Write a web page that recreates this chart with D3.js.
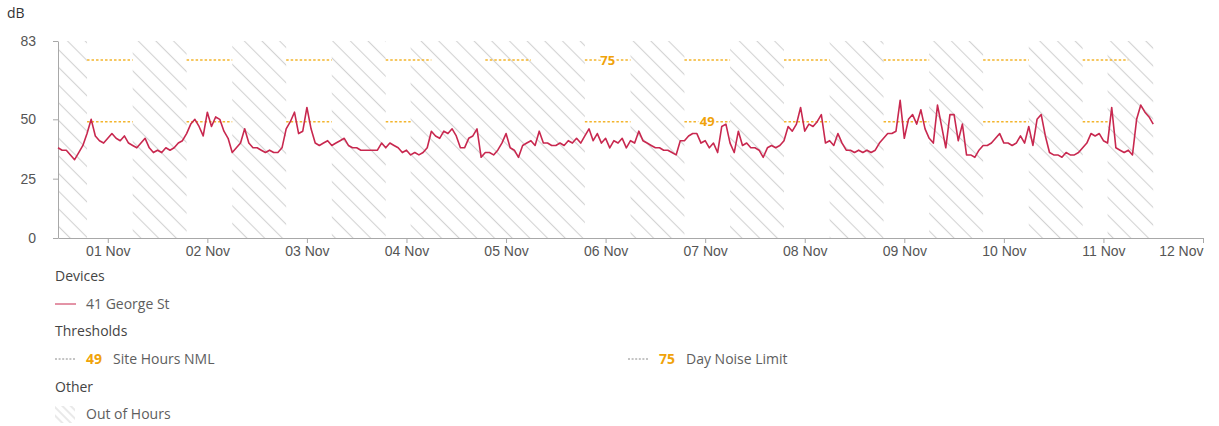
<!DOCTYPE html>
<html>
<head>
<meta charset="utf-8">
<script src="https://cdn.jsdelivr.net/npm/d3@7"></script>
<style>
    body { margin: 0; background: #fff; }
    svg { font-family: "Open Sans", sans-serif; }
</style>
</head>
<body>
<div id="chart"></div>
<script>
// Days covered by the readings (local site time)
var days = ["2023-11-01", "2023-11-02", "2023-11-03", "2023-11-04", "2023-11-05", "2023-11-06",
    "2023-11-07", "2023-11-08", "2023-11-09", "2023-11-10", "2023-11-11"];
var tickDays = days.concat(["2023-11-12"]);

// Site working hours per day [start, end]; null = no site hours (Sunday)
var siteHours = [[7, 18], [7, 18], [7, 18], [7, 13], null, [7, 18],
    [7, 18], [7, 18], [7, 18], [7, 18], [7, 13]];
// Day noise limit applies 7:00 - 18:00 every day
var dayLimitHours = [7, 18];

var yTicks = [0, 25, 50, 83];

var deviceName = "41 George St";
var thresholdValues = [49, 75];
var thresholdNames = ["Site Hours NML", "Day Noise Limit"];

// Hourly noise level (dB) from 01 Nov 00:00, one row per day, last value = 12 Nov 00:00
var levels = [
    38, 37, 37, 35, 33, 36, 39, 44, 50, 43, 41, 40, 42, 44, 42, 41, 43, 40, 39, 38, 40, 42, 38, 36,
    37, 36, 38, 37, 38, 40, 41, 44, 48, 50, 47, 43, 53, 47, 51, 50, 45, 42, 36, 38, 40, 46, 40, 38,
    38, 37, 36, 37, 36, 36, 38, 46, 49, 53, 44, 45, 55, 46, 40, 39, 40, 41, 39, 40, 41, 42, 39, 38,
    38, 37, 37, 37, 37, 37, 40, 38, 40, 39, 38, 36, 37, 35, 36, 35, 36, 38, 45, 43, 42, 45, 44, 46,
    43, 38, 38, 42, 43, 46, 34, 36, 36, 35, 37, 40, 44, 38, 37, 34, 39, 40, 41, 39, 45, 40, 40, 39,
    39, 40, 39, 41, 40, 42, 40, 43, 46, 41, 44, 40, 42, 38, 41, 40, 42, 38, 41, 40, 45, 41, 40, 39,
    38, 38, 37, 37, 36, 35, 41, 41, 43, 44, 44, 40, 41, 38, 40, 36, 47, 48, 40, 36, 45, 39, 40, 38,
    38, 37, 34, 38, 39, 38, 39, 41, 47, 45, 48, 55, 45, 48, 47, 49, 52, 40, 41, 39, 44, 40, 37, 37,
    36, 37, 36, 37, 36, 37, 40, 42, 44, 44, 45, 58, 42, 50, 52, 48, 54, 46, 42, 40, 56, 47, 38, 52,
    52, 41, 48, 35, 35, 34, 37, 39, 39, 40, 42, 44, 40, 40, 39, 40, 43, 40, 47, 39, 50, 52, 43, 36,
    35, 35, 34, 36, 35, 35, 36, 38, 40, 44, 43, 44, 41, 40, 55, 38, 37, 36, 37, 35, 50, 56, 53, 51,
    48
];

var parseDay = d3.utcParse("%Y-%m-%d");
var dayDates = days.map(parseDay);
var start = dayDates[0];

var width = 1219, height = 426;
var plot = { left: 58, right: 1203, top: 41, bottom: 238 };

var lineColor = "#c8284f";
var thresholdColor = "#f3b52d";
var thresholdText = "#f0a30a";

var svg = d3.select("#chart")
    .append("svg")
    .attr("width", width)
    .attr("height", height);

var defs = svg.append("defs");

// Diagonal hatch pattern for out-of-hours
function addHatch(id, size, color) {
    var p = defs.append("pattern")
        .attr("id", id)
        .attr("patternUnits", "userSpaceOnUse")
        .attr("width", size)
        .attr("height", size)
        .attr("patternTransform", "rotate(45)");
    p.append("line")
        .attr("x1", 0).attr("y1", size / 2)
        .attr("x2", size).attr("y2", size / 2)
        .attr("stroke", color)
        .attr("stroke-width", 1.1);
}
addHatch("hatch", 12.5, "#d2d2d2");
addHatch("hatchLegend", 6, "#d6d6d6");

// Scales
var xScale = d3.scaleUtc()
    .domain([start, d3.utcHour.offset(parseDay(tickDays[tickDays.length - 1]), 12)])
    .range([plot.left, plot.right]);

var yScale = d3.scaleLinear()
    .domain([0, 83])
    .range([plot.bottom, plot.top]);

function at(dayIndex, hour) {
    return d3.utcHour.offset(dayDates[dayIndex], hour);
}

// Out-of-hours spans (complement of site hours), merged when adjacent
var outSpans = [];
dayDates.forEach(function(d, i) {
    var parts = siteHours[i] ? [[0, siteHours[i][0]], [siteHours[i][1], 24]] : [[0, 24]];
    parts.forEach(function(p) {
        var s = at(i, p[0]), e = at(i, p[1]);
        var last = outSpans[outSpans.length - 1];
        if (last && +last[1] === +s) {
            last[1] = e;
        } else {
            outSpans.push([s, e]);
        }
    });
});

svg.append("g")
    .selectAll("rect")
    .data(outSpans)
    .enter()
    .append("rect")
    .attr("x", function(d) { return xScale(d[0]); })
    .attr("width", function(d) { return xScale(d[1]) - xScale(d[0]); })
    .attr("y", plot.top)
    .attr("height", plot.bottom - plot.top)
    .attr("fill", "url(#hatch)");

// Threshold segments
var thresholdSegments = thresholdValues.map(function(v, t) {
    var segs = [];
    dayDates.forEach(function(d, i) {
        var hrs = t === 0 ? siteHours[i] : dayLimitHours;
        if (hrs) segs.push({ value: v, s: at(i, hrs[0]), e: at(i, hrs[1]) });
    });
    return segs;
});

var thrG = svg.append("g");
thresholdSegments.forEach(function(segs) {
    thrG.selectAll(null)
        .data(segs)
        .enter()
        .append("line")
        .attr("x1", function(d) { return xScale(d.s); })
        .attr("x2", function(d) { return xScale(d.e); })
        .attr("y1", function(d) { return yScale(d.value); })
        .attr("y2", function(d) { return yScale(d.value); })
        .attr("stroke", thresholdColor)
        .attr("stroke-width", 1.5)
        .attr("stroke-dasharray", "2.5,2");
});

// Axes
var xAxis = d3.axisBottom(xScale)
    .tickValues(tickDays.map(function(d) { return d3.utcHour.offset(parseDay(d), 12); }))
    .tickFormat(d3.utcFormat("%d %b"))
    .tickSize(5)
    .tickSizeOuter(0)
    .tickPadding(3);

var gx = svg.append("g")
    .attr("transform", "translate(0," + plot.bottom + ")")
    .call(xAxis);
gx.selectAll("text")
    .attr("font-size", "14px")
    .attr("fill", "#555");
gx.selectAll("text")
    .filter(function(d, i, n) { return i === n.length - 1; })
    .attr("text-anchor", "end");

var yAxis = d3.axisLeft(yScale)
    .tickValues(yTicks)
    .tickSize(5)
    .tickSizeOuter(0)
    .tickPadding(17);

var gy = svg.append("g")
    .attr("transform", "translate(" + plot.left + ",0)")
    .call(yAxis);
gy.selectAll("text")
    .attr("font-size", "14px")
    .attr("fill", "#555");

svg.selectAll(".domain, .tick line")
    .attr("stroke", "#a8a8a8");

svg.append("text")
    .attr("x", 7)
    .attr("y", 18)
    .attr("font-size", "14px")
    .attr("fill", "#333")
    .text("dB");

// Device line
var line = d3.line()
    .x(function(d, i) { return xScale(d3.utcHour.offset(start, i)); })
    .y(function(d) { return yScale(d); });

svg.append("path")
    .datum(levels)
    .attr("fill", "none")
    .attr("stroke", lineColor)
    .attr("stroke-width", 1.6)
    .attr("stroke-linejoin", "round")
    .attr("d", line);

// Threshold value labels on the middle segment
thresholdSegments.forEach(function(segs) {
    var m = segs[Math.floor(segs.length / 2)];
    svg.append("text")
        .attr("x", xScale(new Date((+m.s + +m.e) / 2)))
        .attr("y", yScale(m.value))
        .attr("dy", "0.36em")
        .attr("text-anchor", "middle")
        .attr("font-size", "13px")
        .attr("font-weight", "bold")
        .attr("fill", thresholdText)
        .attr("stroke", "#fff")
        .attr("stroke-width", 4)
        .attr("paint-order", "stroke")
        .text(m.value);
});

// Legend
var legend = svg.append("g").attr("font-size", "14px");

function header(txt, y) {
    legend.append("text")
        .attr("x", 55).attr("y", y).attr("dy", "0.35em")
        .attr("fill", "#444")
        .text(txt);
}
function item(txt, x, y) {
    legend.append("text")
        .attr("x", x).attr("y", y).attr("dy", "0.35em")
        .attr("fill", "#5e5e5e")
        .text(txt);
}

header("Devices", 276);
legend.append("line")
    .attr("x1", 55).attr("x2", 76).attr("y1", 304).attr("y2", 304)
    .attr("stroke", lineColor).attr("stroke-width", 1);
item(deviceName, 86, 304);

header("Thresholds", 331);
var thrX = [55, 628];
thresholdValues.forEach(function(v, i) {
    var x0 = thrX[i];
    legend.append("line")
        .attr("x1", x0).attr("x2", x0 + 20).attr("y1", 359).attr("y2", 359)
        .attr("stroke", "#8a8a8a").attr("stroke-width", 1)
        .attr("stroke-dasharray", "2,1.6");
    legend.append("text")
        .attr("x", x0 + 31).attr("y", 359).attr("dy", "0.35em")
        .attr("fill", thresholdText)
        .attr("font-weight", "bold")
        .text(v);
    item(thresholdNames[i], x0 + 58, 359);
});

header("Other", 387);
legend.append("rect")
    .attr("x", 55).attr("y", 406).attr("width", 20).attr("height", 17)
    .attr("fill", "url(#hatchLegend)");
item("Out of Hours", 86, 414);
</script>
</body>
</html>
